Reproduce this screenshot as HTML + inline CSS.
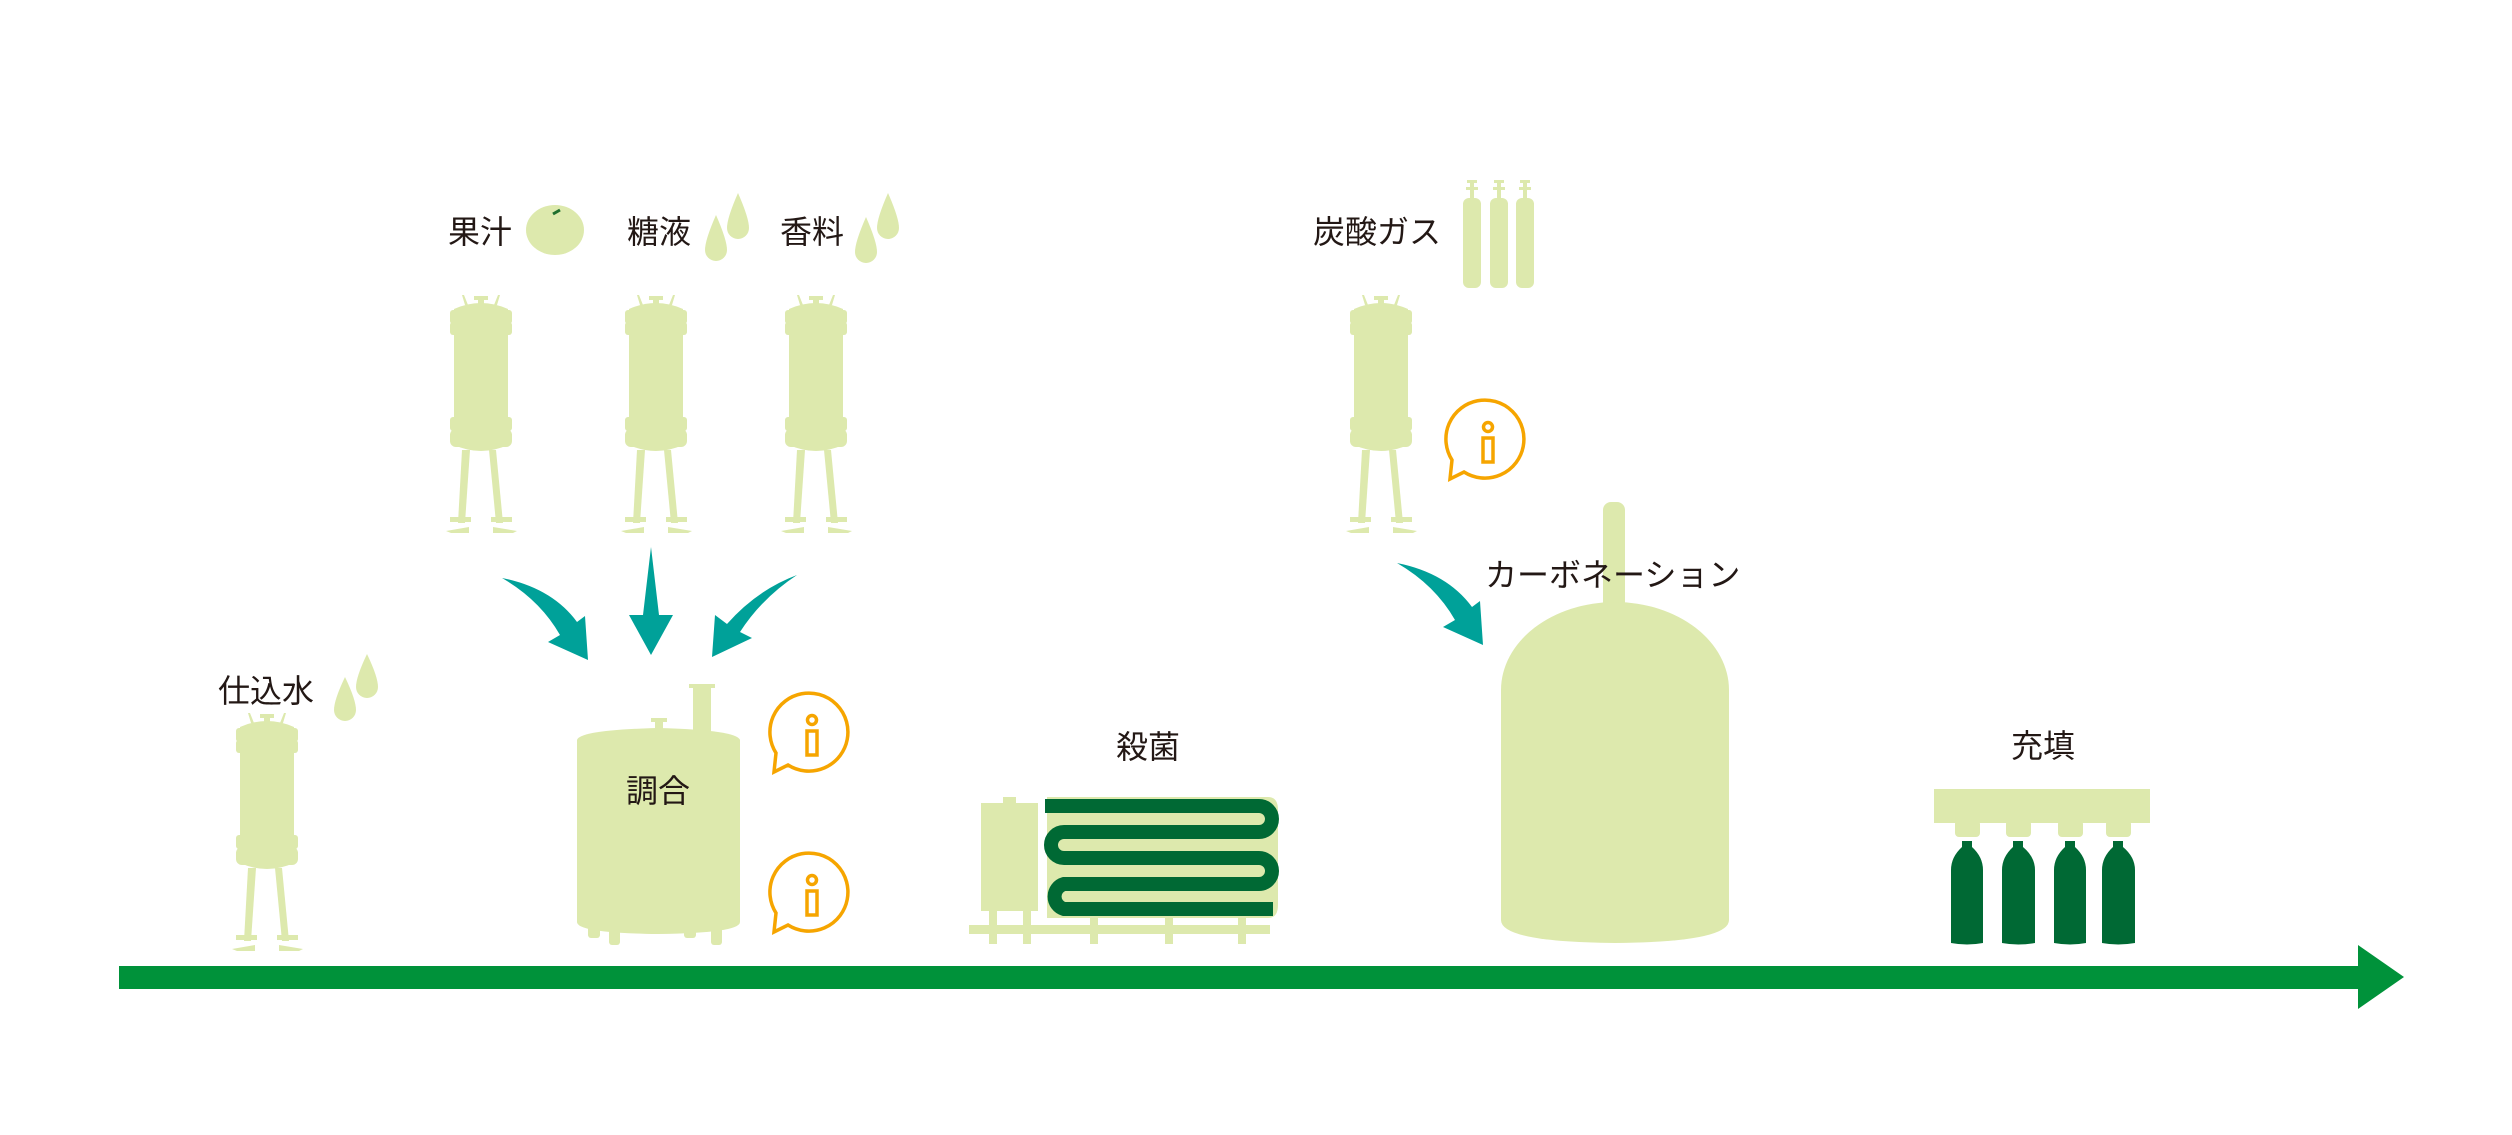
<!DOCTYPE html>
<html><head><meta charset="utf-8"><style>
html,body{margin:0;padding:0;background:#fff;}
svg{display:block;}
text{font-family:"Liberation Sans","Noto Sans CJK JP",sans-serif;font-size:32px;fill:#231815;}
</style></head><body>
<svg width="2512" height="1135" viewBox="0 0 2512 1135" xmlns="http://www.w3.org/2000/svg">
<defs>
<g id="tank" fill="#dde9ad">
  <path d="M-16,10 L-19,0 L-17,0 L-13,10Z M16,10 L19,0 L17,0 L13,10Z"/>
  <rect x="-7" y="1" width="14" height="4"/>
  <rect x="-3" y="3" width="6" height="8"/>
  <path d="M-27,14 Q0,2 27,14 L27,150 Q0,162 -27,150Z"/>
  <rect x="-31" y="15" width="62" height="14" rx="3"/>
  <rect x="-31" y="27" width="62" height="13" rx="3"/>
  <rect x="-31" y="122" width="62" height="14" rx="3"/>
  <rect x="-31" y="134" width="62" height="18" rx="6"/>
  <polygon points="-19,155 -11,155 -16,228 -23,228"/>
  <polygon points="8,155 15,155 22,228 15,228"/>
  <polygon points="-31,222 -10,222 -10,227 -31,227"/>
  <polygon points="-35,236 -12,232 -12,238 -30,238"/>
  <polygon points="10,222 31,222 31,227 10,227"/>
  <polygon points="12,232 36,236 32,238 12,238"/>
</g>
<g id="bubble" fill="none" stroke="#f6a500" stroke-width="3.5">
  <path d="M-36,18 A39,39 0 1 1 -24,30 L-38,37 Z" stroke-linejoin="miter"/>
  <circle cx="0" cy="-15" r="4.5"/>
  <rect x="-5" y="-4" width="10" height="24"/>
</g>
<path id="carr" fill="#00a199" d="M502,578 Q552,588 577,622 L585,616 L588,660 L548,642 L560,635 Q540,600 502,578Z"/>
</defs>

<!-- main arrow -->
<rect x="119" y="966" width="2243" height="23" fill="#00923a"/>
<polygon points="2358,945 2404,977 2358,1009" fill="#00923a"/>

<!-- top ingredients -->
<text x="448" y="243">果汁</text>
<ellipse cx="555" cy="230" rx="29" ry="25" fill="#dde9ad"/>
<path d="M553,214 L560,210" stroke="#1e6f2e" stroke-width="3"/>
<text x="627" y="243">糖液</text>
<text x="780" y="243">香料</text>
<g fill="#dde9ad">
<path d="M716,215 Q705,240 705,250 A11,11 0 0 0 727,250 Q727,240 716,215Z"/>
<path d="M738,193 Q727,218 727,228 A11,11 0 0 0 749,228 Q749,218 738,193Z"/>
<path d="M866,217 Q855,242 855,252 A11,11 0 0 0 877,252 Q877,242 866,217Z"/>
<path d="M888,193 Q877,218 877,228 A11,11 0 0 0 899,228 Q899,218 888,193Z"/>
<path d="M345,677 Q334,700 334,710 A11,11 0 0 0 356,710 Q356,700 345,677Z"/>
<path d="M367,654 Q356,677 356,687 A11,11 0 0 0 378,687 Q378,677 367,654Z"/>
</g>

<use href="#tank" transform="translate(481,295)"/>
<use href="#tank" transform="translate(656,295)"/>
<use href="#tank" transform="translate(816,295)"/>
<use href="#tank" transform="translate(1381,295)"/>
<use href="#tank" transform="translate(267,713)"/>

<!-- arrows -->
<use href="#carr"/>
<path fill="#00a199" d="M651,547 L643,615 L629,615 L651,655 L673,615 L659,615 Z"/>
<path fill="#00a199" d="M797,575 Q757,590 727,624 L715,615 L712,657 L752,638 L740,632 Q762,598 797,575Z"/>
<use href="#carr" transform="translate(895,-15)"/>

<!-- 仕込水 -->
<text x="218" y="702">仕込水</text>

<!-- blend tank -->
<g fill="#dde9ad">
<rect x="693" y="685" width="18" height="50"/>
<rect x="689" y="684" width="26" height="4"/>
<rect x="651" y="718" width="16" height="4"/>
<rect x="655" y="720" width="8" height="14"/>
<path d="M577,740 Q580,730 658,728 Q737,730 740,740 L740,922 Q740,933 658,934 Q577,933 577,922Z"/>
<rect x="588" y="925" width="12" height="13" rx="3"/>
<rect x="609" y="925" width="11" height="20" rx="3"/>
<rect x="684" y="925" width="12" height="13" rx="3"/>
<rect x="711" y="925" width="11" height="20" rx="3"/>
</g>
<text x="626" y="802">調合</text>
<use href="#bubble" transform="translate(812,735)"/>
<use href="#bubble" transform="translate(812,895)"/>

<!-- 炭酸ガス -->
<text x="1313" y="243">炭酸ガス</text>
<g fill="#dde9ad">
<rect x="1463" y="198" width="18" height="90" rx="6"/>
<rect x="1490" y="198" width="18" height="90" rx="6"/>
<rect x="1516" y="198" width="18" height="90" rx="6"/>
<path d="M1467,180h10v3h-3v4h4v3h-4v8h-4v-8h-4v-3h4v-4h-3z"/>
<path d="M1494,180h10v3h-3v4h4v3h-4v8h-4v-8h-4v-3h4v-4h-3z"/>
<path d="M1520,180h10v3h-3v4h4v3h-4v8h-4v-8h-4v-3h4v-4h-3z"/>
</g>
<use href="#bubble" transform="translate(1488,442)"/>

<!-- carbonation vessel -->
<g fill="#dde9ad">
<rect x="1603" y="502" width="22" height="110" rx="8"/>
<path d="M1501,690 A114,88 0 0 1 1729,690 L1729,920 Q1729,942 1615,943 Q1501,942 1501,920Z"/>
</g>
<text x="1485" y="586">カーボネーション</text>

<!-- sterilizer -->
<text x="1116" y="758">殺菌</text>
<g fill="#dde9ad">
<rect x="1003" y="797" width="13" height="8"/>
<rect x="981" y="803" width="57" height="108"/>
<path d="M1047,797 H1268 Q1278,797 1278,810 V905 Q1278,918 1268,918 H1047Z"/>
<rect x="969" y="925" width="301" height="9"/>
<rect x="989" y="911" width="8" height="33"/>
<rect x="1023" y="911" width="8" height="33"/>
<rect x="1090" y="916" width="8" height="28"/>
<rect x="1165" y="916" width="8" height="28"/>
<rect x="1238" y="916" width="8" height="28"/>
</g>
<path d="M1045,806 H1259 A13,13 0 0 1 1259,832 H1064 A13,13 0 0 0 1064,858 H1259 A13,13 0 0 1 1259,884 H1064 A13,13 0 0 0 1064,909 H1273" fill="none" stroke="#006934" stroke-width="14"/>

<!-- filling -->
<text x="2011" y="757">充填</text>
<g fill="#dde9ad">
<rect x="1934" y="789" width="216" height="34"/>
<rect x="1955" y="820" width="25" height="17" rx="4"/>
<rect x="2006" y="820" width="25" height="17" rx="4"/>
<rect x="2058" y="820" width="25" height="17" rx="4"/>
<rect x="2106" y="820" width="25" height="17" rx="4"/>
</g>
<g fill="#006934">
<path d="M1962,841 h10 v6 Q1983,857 1983,870 V943 Q1967,946 1951,943 V870 Q1951,857 1962,847Z"/>
<path d="M2013,841 h10 v6 Q2035,857 2035,870 V943 Q2018,946 2002,943 V870 Q2002,857 2013,847Z"/>
<path d="M2065,841 h10 v6 Q2086,857 2086,870 V943 Q2070,946 2054,943 V870 Q2054,857 2065,847Z"/>
<path d="M2113,841 h10 v6 Q2135,857 2135,870 V943 Q2118,946 2102,943 V870 Q2102,857 2113,847Z"/>
</g>
</svg>
</body></html>
